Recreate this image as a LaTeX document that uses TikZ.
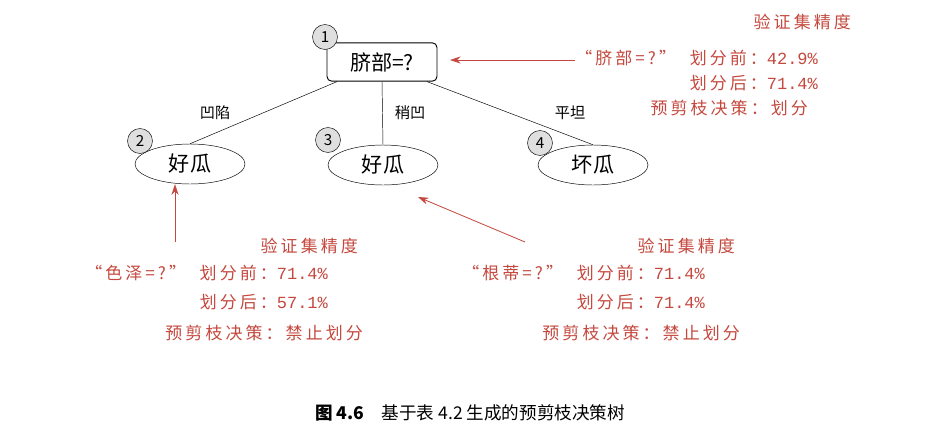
\documentclass[tikz,border=0pt]{standalone}
\usepackage{fontspec}
\setmainfont{Noto Sans CJK SC}
\newfontfamily\rdfont[LetterSpace=18]{Noto Sans CJK SC}
\newfontfamily\numfont{Liberation Mono}
\usetikzlibrary{shapes.geometric,arrows.meta}
\definecolor{rd}{RGB}{196,72,62}
\begin{document}
\begin{tikzpicture}[x=0.03cm,y=-0.03cm,
 leaf/.style={draw,ellipse,minimum width=3.3cm,minimum height=1.2cm,font=\fontsize{18}{18}\selectfont,inner sep=0pt},
 rootbox/.style={draw,rounded corners=4pt,minimum width=3.3cm,minimum height=1.15cm,font=\fontsize{18}{18}\selectfont,line width=0.8pt},
 num/.style={draw,circle,fill=gray!25,minimum size=0.75cm,inner sep=0pt,font=\fontsize{13}{13}\selectfont},
 elab/.style={font=\fontsize{13}{13}\selectfont},
 rt/.style={text=rd,font=\rdfont\fontsize{14.5}{14.5}\selectfont,anchor=east},
 rarr/.style={draw=rd,-{Stealth[length=9pt,width=6pt]},line width=0.7pt}]
\useasboundingbox (0,0) rectangle (945,442);
\node[rootbox] (r) at (382,62) {脐部=?};
\node[num] (n1) at (325,37) {1};
\node[leaf] (a) at (190,164) {好瓜};
\node[leaf] (b) at (383,165) {好瓜};
\node[leaf] (c) at (593,165) {坏瓜};
\node[num] (n2) at (140,141) {2};
\node[num] (n3) at (328,140) {3};
\node[num] (n4) at (540,143) {4};
\draw (r.south) ++(-45,0) coordinate (r1) -- (a.north);
\draw (r.south) -- (b.north);
\draw (r.south) ++(45,0) coordinate (r3) -- (c.north);
\node[elab] (l1) at (215,113) {凹陷};
\node[elab] (l2) at (410,113) {稍凹};
\node[elab] (l3) at (570,113) {平坦};
% right block
\node[rt] (t0) at (855,22) {验证集精度};
\node[rt] (t1) at (822,58) {“脐部=?”\ \ 划分前：{\numfont 42.9\%}};
\node[rt] (t2) at (822,83) {划分后：{\numfont 71.4\%}};
\node[rt] (t3) at (812,108) {预剪枝决策：划分};
\coordinate (s1) at (575,60);
\coordinate (e1) at (450,60);
\draw[rarr] (s1) -- (e1);
% left block
\node[rt] (u0) at (362,246) {验证集精度};
\node[rt] (u1) at (332,273) {“色泽=?”\ \ 划分前：{\numfont 71.4\%}};
\node[rt] (u2) at (332,302) {划分后：{\numfont 57.1\%}};
\node[rt] (u3) at (367,333) {预剪枝决策：禁止划分};
\coordinate (s2) at (175,242);
\draw[rarr] (s2) -- (a.south -| s2);
% middle block
\node[rt] (v0) at (739,246) {验证集精度};
\node[rt] (v1) at (709,273) {“根蒂=?”\ \ 划分前：{\numfont 71.4\%}};
\node[rt] (v2) at (709,302) {划分后：{\numfont 71.4\%}};
\node[rt] (v3) at (744,333) {预剪枝决策：禁止划分};
\coordinate (s3) at (525,242);
\coordinate (e3) at (418,197);
\draw[rarr] (s3) -- (e3);
\node[font=\fontsize{15}{15}\selectfont] (cap) at (470,413) {\textbf{图 4.6}\quad 基于表 4.2 生成的预剪枝决策树};
\end{tikzpicture}
\end{document}
